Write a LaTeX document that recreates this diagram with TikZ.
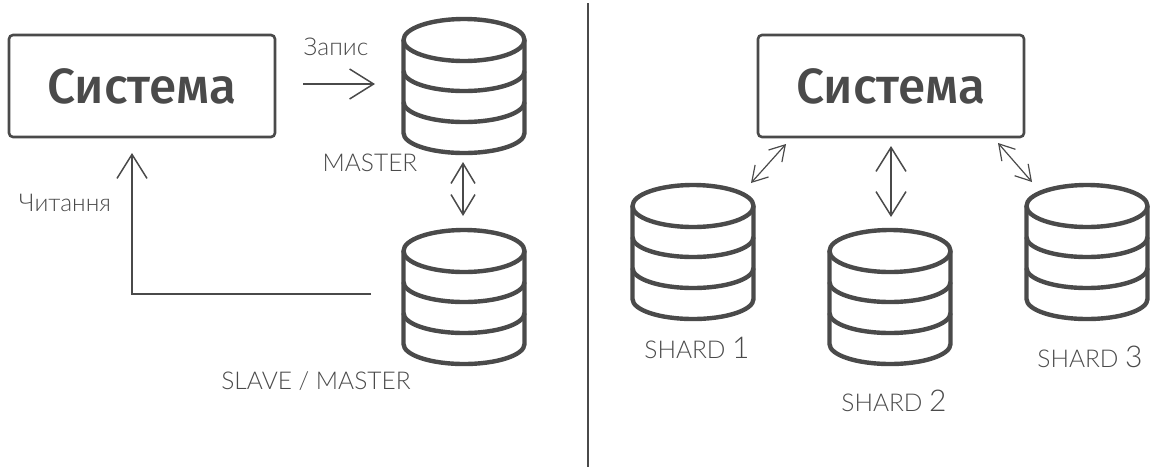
\documentclass[tikz,border=0pt]{standalone}
\usepackage{fontspec}
\setmainfont{Open Sans}
\newfontfamily\boxfont{Fira Sans Medium}
\newfontfamily\lightfont{Lato Light}
\usetikzlibrary{arrows.meta}
\definecolor{ink}{HTML}{4A4A4A}
\newcommand{\shardlabel}[1]{SHARD {\fontsize{30}{30}\selectfont #1}}
\tikzset{
  x=1pt,y=-1pt,
  sysbox/.style={draw=ink,line width=2.6pt,rounded corners=4pt,minimum width=266pt,minimum height=102pt,inner sep=0pt,text=ink,font=\boxfont\fontsize{49.5}{49.5}\selectfont},
  lbl/.style={text=ink,inner sep=0pt,font=\lightfont\fontsize{24.5}{24.5}\selectfont},
  conn/.style={draw=ink,line width=1.5pt},
  tip/.style={conn,-{Straight Barb[length=24pt,width=30pt,line width=1.5pt]}},
  tipmid/.style={conn,{Straight Barb[length=20pt,width=24pt,line width=1.5pt]}-{Straight Barb[length=20pt,width=24pt,line width=1.5pt]}},
  tiptwo/.style={conn,{Straight Barb[length=24pt,width=30pt,line width=1.5pt]}-{Straight Barb[length=24pt,width=30pt,line width=1.5pt]}},
  tipsmall/.style={conn,line width=1.2pt,{Straight Barb[length=15pt,width=18pt,line width=1.2pt]}-{Straight Barb[length=15pt,width=18pt,line width=1.2pt]}},
  dbline/.style={draw=ink,line width=4.4pt,line join=round},
  dbcyl/.pic={
    \draw[dbline] (0,0) ellipse [x radius=60.5,y radius=21];
    \draw[dbline] (-60.5,0) -- (-60.5,93) arc [start angle=180,end angle=0,x radius=60.5,y radius=20] -- (60.5,0);
    \draw[dbline] (-60.5,31) arc [start angle=180,end angle=0,x radius=60.5,y radius=20];
    \draw[dbline] (-60.5,62) arc [start angle=180,end angle=0,x radius=60.5,y radius=20];
  }
}
\begin{document}
\begin{tikzpicture}
\useasboundingbox (0,0) rectangle (1153,467);
\node[sysbox] (sysL) at (142,86) {\raisebox{-1pt}{Система}};
\node[sysbox] (sysR) at (891,86) {\raisebox{-1pt}{Система}};
\pic at (464,40) {dbcyl};
\pic at (464,251) {dbcyl};
\pic at (693,206) {dbcyl};
\pic at (890,251) {dbcyl};
\pic at (1087,206) {dbcyl};
\node[lbl] (zapys) at (336,47) {Запис};
\node[lbl] (chyt) at (65,203) {Читання};
\node[lbl] (master) at (370,163) {MASTER};
\node[lbl] (slave) at (316,381) {SLAVE / MASTER};
\node[lbl] (s1) at (697,348) {\shardlabel{1}};
\node[lbl] (s2) at (894,401) {\shardlabel{2}};
\node[lbl] (s3) at (1090,357) {\shardlabel{3}};
\coordinate (w1) at (303,84); \coordinate (w2) at (375,84);
\coordinate (r1) at (371,294); \coordinate (r2) at (132,294); \coordinate (r3) at (132,153);
\coordinate (m1) at (463,162); \coordinate (m2) at (463,216);
\coordinate (a1) at (751,183); \coordinate (a2) at (786,144);
\coordinate (b1) at (891,217); \coordinate (b2) at (891,146);
\coordinate (c1) at (1032,182); \coordinate (c2) at (998,143);
\coordinate (d1) at (588,3); \coordinate (d2) at (588,467);
\draw[tip] (w1) -- (w2);
\draw[tip] (r1) -- (r2) -- (r3);
\draw[tipmid] (m1) -- (m2);
\draw[tipsmall] (a1) -- (a2);
\draw[tiptwo] (b1) -- (b2);
\draw[tipsmall] (c1) -- (c2);
\draw[draw=ink,line width=2pt] (d1) -- (d2);
\end{tikzpicture}
\end{document}
